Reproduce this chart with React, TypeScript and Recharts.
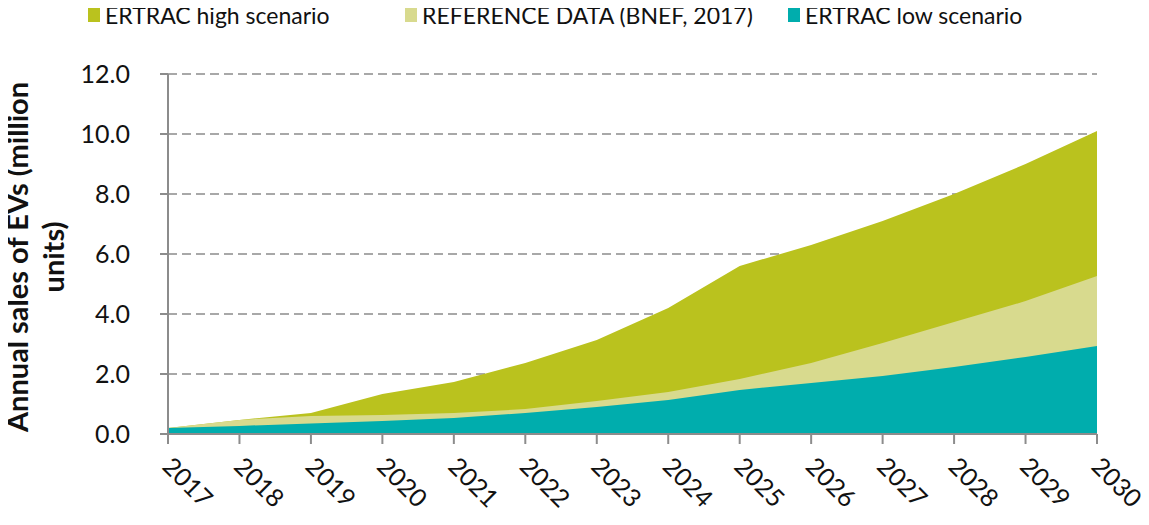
import { Area, AreaChart, CartesianGrid, Legend, XAxis, YAxis } from "recharts";

const years = ["2017", "2018", "2019", "2020", "2021", "2022", "2023", "2024", "2025", "2026", "2027", "2028", "2029", "2030"];
const highScenario = [0.2, 0.47, 0.7, 1.33, 1.73, 2.37, 3.13, 4.2, 5.6, 6.3, 7.1, 8.0, 9.0, 10.1];
const referenceData = [0.2, 0.47, 0.6, 0.63, 0.7, 0.83, 1.1, 1.4, 1.83, 2.37, 3.03, 3.73, 4.43, 5.27];
const lowScenario = [0.2, 0.27, 0.35, 0.43, 0.53, 0.7, 0.9, 1.13, 1.47, 1.7, 1.93, 2.23, 2.57, 2.93];
const yTicks = [0, 2, 4, 6, 8, 10, 12];

const data = years.map((year, i) => ({
  year,
  high: highScenario[i],
  reference: referenceData[i],
  low: lowScenario[i],
}));

const FONT = "Lato, 'Open Sans', sans-serif";
const AXIS = "#8c8c8c";

const legendItems = [
  { label: "ERTRAC high scenario", color: "#BAC21E", left: 88 },
  { label: "REFERENCE DATA (BNEF, 2017)", color: "#D8DA8E", left: 405 },
  { label: "ERTRAC low scenario", color: "#00ADAD", left: 788 },
];

function TopLegend() {
  return (
    <div style={{ position: "relative", width: 1149, height: 34, fontFamily: FONT, fontSize: 23, color: "#111" }}>
      {legendItems.map((it) => (
        <div key={it.label} style={{ position: "absolute", left: it.left, top: 1, display: "flex", alignItems: "center", whiteSpace: "nowrap" }}>
          <span style={{ width: 12, height: 14, background: it.color, marginRight: 5, display: "inline-block" }} />
          <span>{it.label}</span>
        </div>
      ))}
    </div>
  );
}

function XTick({ x, y, payload }: any) {
  const tx = x - 7;
  const ty = y + 22;
  return (
    <text x={tx} y={ty} transform={`rotate(45, ${tx}, ${ty})`} textAnchor="start" fontFamily={FONT} fontSize={25} fill="#111">
      {payload.value}
    </text>
  );
}

function YTitle() {
  return (
    <g fontFamily={FONT} fontSize={29} fontWeight="bold" fill="#111">
      <text x={28} y={257} textAnchor="middle" transform="rotate(-90, 28, 257)">Annual sales of EVs (million</text>
      <text x={64} y={257} textAnchor="middle" transform="rotate(-90, 64, 257)">units)</text>
    </g>
  );
}

export default function App() {
  return (
    <div style={{ margin: -8, width: 1149, height: 525, background: "#fff" }}>
      <AreaChart width={1149} height={525} data={data} margin={{ top: 40, right: 52, left: 0, bottom: 0 }}>
        <CartesianGrid vertical={false} stroke={AXIS} strokeWidth={1.5} strokeDasharray="9 5" />
        <Legend verticalAlign="top" align="left" height={34} wrapperStyle={{ top: 0, left: 0 }} content={() => <TopLegend />} />
        <Area type="linear" dataKey="high" fill="#BAC21E" fillOpacity={1} stroke="none" isAnimationActive={false} />
        <Area type="linear" dataKey="reference" fill="#D8DA8E" fillOpacity={1} stroke="none" isAnimationActive={false} />
        <Area type="linear" dataKey="low" fill="#00ADAD" fillOpacity={1} stroke="none" isAnimationActive={false} />
        <XAxis
          dataKey="year"
          height={91}
          interval={0}
          stroke={AXIS}
          strokeWidth={2}
          tickSize={10}
          tick={<XTick />}
        />
        <YAxis
          width={168}
          domain={[0, 12]}
          ticks={yTicks}
          interval={0}
          stroke={AXIS}
          strokeWidth={2}
          tickSize={8}
          tickMargin={30}
          tickFormatter={(v: number) => v.toFixed(1)}
          tick={{ fontFamily: FONT, fontSize: 25, fill: "#111" }}
          label={{ content: () => <YTitle /> }}
        />
      </AreaChart>
    </div>
  );
}
